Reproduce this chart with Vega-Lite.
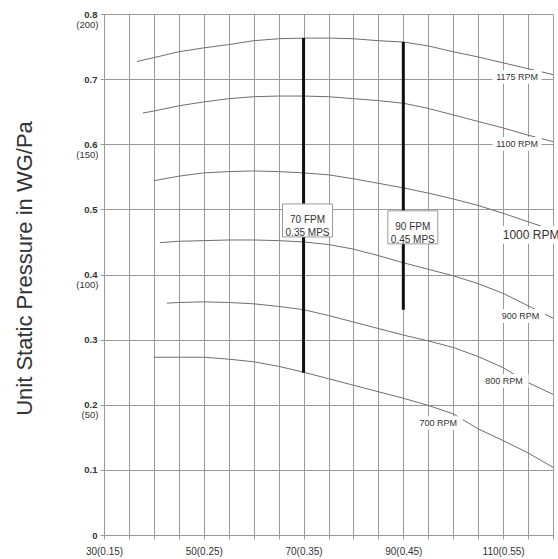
{
  "$schema": "https://vega.github.io/schema/vega-lite/v6.json",
  "width": 449,
  "height": 521,
  "autosize": {"type": "none"},
  "padding": {"left": 104, "top": 14, "right": 5, "bottom": 24},
  "background": "white",
  "config": {
    "view": {"stroke": null},
    "font": "Liberation Sans",
    "axis": {"gridColor": "#9a9a9a", "gridOpacity": 1, "gridWidth": 1, "domainColor": "#9a9a9a", "tickColor": "#9a9a9a", "labelColor": "#333"}
  },
  "datasets": {
    "curves": [
      {"rpm": "1175", "x": 36.6, "y": 0.727}, {"rpm": "1175", "x": 40, "y": 0.733}, {"rpm": "1175", "x": 45, "y": 0.742}, {"rpm": "1175", "x": 50, "y": 0.748}, {"rpm": "1175", "x": 55, "y": 0.753}, {"rpm": "1175", "x": 60, "y": 0.759}, {"rpm": "1175", "x": 65, "y": 0.762}, {"rpm": "1175", "x": 70, "y": 0.763}, {"rpm": "1175", "x": 75, "y": 0.763}, {"rpm": "1175", "x": 80, "y": 0.762}, {"rpm": "1175", "x": 85, "y": 0.759}, {"rpm": "1175", "x": 90, "y": 0.757}, {"rpm": "1175", "x": 95, "y": 0.751}, {"rpm": "1175", "x": 100, "y": 0.742}, {"rpm": "1175", "x": 105, "y": 0.734}, {"rpm": "1175", "x": 110, "y": 0.725}, {"rpm": "1175", "x": 115, "y": 0.716}, {"rpm": "1175", "x": 120, "y": 0.707},
      {"rpm": "1100", "x": 37.8, "y": 0.648}, {"rpm": "1100", "x": 40, "y": 0.651}, {"rpm": "1100", "x": 45, "y": 0.659}, {"rpm": "1100", "x": 50, "y": 0.665}, {"rpm": "1100", "x": 55, "y": 0.670}, {"rpm": "1100", "x": 60, "y": 0.673}, {"rpm": "1100", "x": 65, "y": 0.674}, {"rpm": "1100", "x": 70, "y": 0.674}, {"rpm": "1100", "x": 75, "y": 0.673}, {"rpm": "1100", "x": 80, "y": 0.670}, {"rpm": "1100", "x": 85, "y": 0.667}, {"rpm": "1100", "x": 90, "y": 0.663}, {"rpm": "1100", "x": 95, "y": 0.655}, {"rpm": "1100", "x": 100, "y": 0.645}, {"rpm": "1100", "x": 105, "y": 0.635}, {"rpm": "1100", "x": 110, "y": 0.625}, {"rpm": "1100", "x": 115, "y": 0.614}, {"rpm": "1100", "x": 120, "y": 0.604},
      {"rpm": "1000", "x": 40, "y": 0.544}, {"rpm": "1000", "x": 45, "y": 0.551}, {"rpm": "1000", "x": 50, "y": 0.556}, {"rpm": "1000", "x": 55, "y": 0.558}, {"rpm": "1000", "x": 60, "y": 0.559}, {"rpm": "1000", "x": 65, "y": 0.558}, {"rpm": "1000", "x": 70, "y": 0.556}, {"rpm": "1000", "x": 75, "y": 0.553}, {"rpm": "1000", "x": 80, "y": 0.547}, {"rpm": "1000", "x": 85, "y": 0.540}, {"rpm": "1000", "x": 90, "y": 0.533}, {"rpm": "1000", "x": 95, "y": 0.525}, {"rpm": "1000", "x": 100, "y": 0.516}, {"rpm": "1000", "x": 105, "y": 0.506}, {"rpm": "1000", "x": 110, "y": 0.494}, {"rpm": "1000", "x": 115, "y": 0.481}, {"rpm": "1000", "x": 120, "y": 0.468},
      {"rpm": "900", "x": 41.2, "y": 0.449}, {"rpm": "900", "x": 45, "y": 0.451}, {"rpm": "900", "x": 50, "y": 0.452}, {"rpm": "900", "x": 55, "y": 0.453}, {"rpm": "900", "x": 60, "y": 0.453}, {"rpm": "900", "x": 65, "y": 0.452}, {"rpm": "900", "x": 70, "y": 0.450}, {"rpm": "900", "x": 75, "y": 0.446}, {"rpm": "900", "x": 80, "y": 0.439}, {"rpm": "900", "x": 85, "y": 0.429}, {"rpm": "900", "x": 90, "y": 0.418}, {"rpm": "900", "x": 95, "y": 0.408}, {"rpm": "900", "x": 100, "y": 0.398}, {"rpm": "900", "x": 105, "y": 0.386}, {"rpm": "900", "x": 110, "y": 0.371}, {"rpm": "900", "x": 115, "y": 0.352}, {"rpm": "900", "x": 120, "y": 0.333},
      {"rpm": "800", "x": 42.6, "y": 0.356}, {"rpm": "800", "x": 45, "y": 0.357}, {"rpm": "800", "x": 50, "y": 0.358}, {"rpm": "800", "x": 55, "y": 0.357}, {"rpm": "800", "x": 60, "y": 0.355}, {"rpm": "800", "x": 65, "y": 0.351}, {"rpm": "800", "x": 70, "y": 0.346}, {"rpm": "800", "x": 75, "y": 0.337}, {"rpm": "800", "x": 80, "y": 0.327}, {"rpm": "800", "x": 85, "y": 0.317}, {"rpm": "800", "x": 90, "y": 0.307}, {"rpm": "800", "x": 95, "y": 0.298}, {"rpm": "800", "x": 100, "y": 0.288}, {"rpm": "800", "x": 105, "y": 0.274}, {"rpm": "800", "x": 110, "y": 0.257}, {"rpm": "800", "x": 115, "y": 0.234}, {"rpm": "800", "x": 120, "y": 0.216},
      {"rpm": "700", "x": 40, "y": 0.273}, {"rpm": "700", "x": 45, "y": 0.273}, {"rpm": "700", "x": 50, "y": 0.273}, {"rpm": "700", "x": 55, "y": 0.270}, {"rpm": "700", "x": 60, "y": 0.266}, {"rpm": "700", "x": 65, "y": 0.259}, {"rpm": "700", "x": 70, "y": 0.250}, {"rpm": "700", "x": 75, "y": 0.240}, {"rpm": "700", "x": 80, "y": 0.230}, {"rpm": "700", "x": 85, "y": 0.220}, {"rpm": "700", "x": 90, "y": 0.210}, {"rpm": "700", "x": 95, "y": 0.199}, {"rpm": "700", "x": 100, "y": 0.186}, {"rpm": "700", "x": 105, "y": 0.163}, {"rpm": "700", "x": 110, "y": 0.145}, {"rpm": "700", "x": 115, "y": 0.126}, {"rpm": "700", "x": 120, "y": 0.104}
    ],
    "bars": [
      {"label": "70 FPM\n0.35 MPS", "x": 70, "y1": 0.249, "y2": 0.763, "lx": 70.8, "ly": 0.483},
      {"label": "90 FPM\n0.45 MPS", "x": 90, "y1": 0.346, "y2": 0.757, "lx": 91.9, "ly": 0.4724}
    ],
    "rpmLabels": [
      {"t": "1175 RPM", "x": 112.8, "y": 0.7035},
      {"t": "1100 RPM", "x": 112.8, "y": 0.6006},
      {"t": "1000 RPM", "x": 115.6, "y": 0.461},
      {"t": "900 RPM", "x": 113.5, "y": 0.3364},
      {"t": "800 RPM", "x": 110.2, "y": 0.2366},
      {"t": "700 RPM", "x": 97, "y": 0.172}
    ]
  },
  "layer": [
    {
      "data": {"name": "curves"},
      "mark": {"type": "line", "color": "#6e6e6e", "strokeWidth": 1},
      "encoding": {
        "x": {
          "field": "x", "type": "quantitative",
          "scale": {"domain": [30, 120], "nice": false, "zero": false},
          "axis": {
            "title": null,
            "values": [30, 35, 40, 45, 50, 55, 60, 65, 70, 75, 80, 85, 90, 95, 100, 105, 110, 115, 120],
            "tickCount": 100,
            "labelExpr": "indexof([30,50,70,90,110], datum.value) >= 0 ? datum.value + '(' + format(datum.value/200, '.2f') + ')' : ''",
            "labelFontSize": 10, "labelPadding": 7, "tickSize": 4, "labelFlush": false, "labelOverlap": false
          }
        },
        "y": {
          "field": "y", "type": "quantitative",
          "scale": {"domain": [0, 0.8], "nice": false},
          "axis": {
            "orient": "left",
            "values": [0, 0.1, 0.2, 0.3, 0.4, 0.5, 0.6, 0.7, 0.8],
            "tickCount": 100,
            "labelExpr": "datum.value == 0 ? '0' : format(datum.value, '.1f')",
            "labelFontSize": 9.5, "labelFontWeight": "bold", "labelPadding": 3, "tickSize": 4,
            "labelFlush": false, "labelOverlap": false,
            "title": "Unit Static Pressure in WG/Pa",
            "titleFontSize": 22, "titleFontWeight": "normal", "titleColor": "#333",
            "titleAngle": -90, "titleX": -80, "titleY": 254, "titleAlign": "center", "titleBaseline": "middle"
          }
        },
        "detail": {"field": "rpm"}
      }
    },
    {
      "data": {"name": "bars"},
      "mark": {"type": "rule", "color": "#111", "strokeWidth": 3},
      "encoding": {
        "x": {"field": "x", "type": "quantitative"},
        "y": {
          "field": "y1", "type": "quantitative",
          "axis": {
            "orient": "left", "title": null,
            "values": [0.2, 0.4, 0.6, 0.8],
            "tickCount": 100,
            "labelExpr": "'(' + round(datum.value * 250) + ')'",
            "labelOffset": 10, "ticks": false, "domain": false, "grid": false,
            "labelPadding": 6, "labelFontSize": 9.5, "labelFlush": false, "labelOverlap": false
          }
        },
        "y2": {"field": "y2"}
      }
    },
    {
      "data": {"name": "bars"},
      "mark": {"type": "point", "shape": "M-1,-0.66H1V0.66H-1Z", "size": 2500, "filled": true, "fill": "white", "stroke": "#9a9a9a", "strokeWidth": 1, "opacity": 1},
      "encoding": {
        "x": {"field": "lx", "type": "quantitative"},
        "y": {"field": "ly", "type": "quantitative", "axis": null}
      }
    },
    {
      "data": {"name": "bars"},
      "mark": {"type": "text", "fontSize": 10, "color": "#333", "lineBreak": "\n", "lineHeight": 13, "align": "center", "baseline": "middle"},
      "encoding": {
        "x": {"field": "lx", "type": "quantitative"},
        "y": {"field": "ly", "type": "quantitative", "axis": null},
        "text": {"field": "label"}
      }
    },
    {
      "data": {"name": "rpmLabels"},
      "transform": [{"filter": "datum.t != '1000 RPM'"}],
      "mark": {"type": "point", "shape": "M-1,-0.28H1V0.28H-1Z", "size": 2400, "filled": true, "fill": "white", "strokeWidth": 0, "opacity": 1},
      "encoding": {
        "x": {"field": "x", "type": "quantitative"},
        "y": {"field": "y", "type": "quantitative", "axis": null}
      }
    },
    {
      "data": {"name": "rpmLabels"},
      "transform": [{"filter": "datum.t == '1000 RPM'"}],
      "mark": {"type": "point", "shape": "M-1,-0.28H1V0.28H-1Z", "size": 4000, "filled": true, "fill": "white", "strokeWidth": 0, "opacity": 1},
      "encoding": {
        "x": {"field": "x", "type": "quantitative"},
        "y": {"field": "y", "type": "quantitative", "axis": null}
      }
    },
    {
      "data": {"name": "rpmLabels"},
      "transform": [{"filter": "datum.t != '1000 RPM'"}],
      "mark": {"type": "text", "fontSize": 9, "color": "#333", "align": "center", "baseline": "middle"},
      "encoding": {
        "x": {"field": "x", "type": "quantitative"},
        "y": {"field": "y", "type": "quantitative", "axis": null},
        "text": {"field": "t"}
      }
    },
    {
      "data": {"name": "rpmLabels"},
      "transform": [{"filter": "datum.t == '1000 RPM'"}],
      "mark": {"type": "text", "fontSize": 12, "color": "#333", "align": "center", "baseline": "middle"},
      "encoding": {
        "x": {"field": "x", "type": "quantitative"},
        "y": {"field": "y", "type": "quantitative", "axis": null},
        "text": {"field": "t"}
      }
    }
  ],
  "resolve": {"axis": {"y": "independent"}}
}
